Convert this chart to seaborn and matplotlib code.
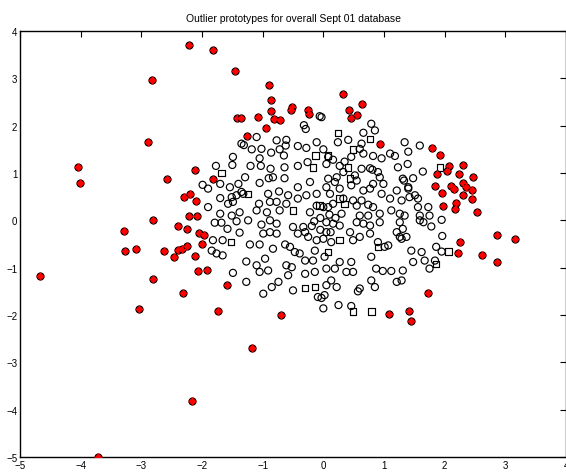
import matplotlib
matplotlib.use("Agg")
import matplotlib.pyplot as plt
import seaborn as sns
import pandas as pd

# ---------------- data ----------------
circ_x = [-0.32, -0.29, -0.11, -0.77, -0.61, -0.62, -0.42, -0.28, -1.10, -1.35, -1.31, -1.18, -1.02,
          -0.86, -0.72, -0.65, -1.05, -1.49, -1.50, -1.20, -1.03, -0.87, -0.83, -0.64, -0.64, -0.42,
          -0.26, -1.77, -1.99, -1.90, -1.70, -1.54, -1.40, -1.29, -1.32, -1.05, -0.90, -0.73,
          -0.58, -0.42, -0.22, -0.11, -1.51, -1.43, -1.35, -1.70, -1.90, -1.57, -1.49, -1.06, -0.91,
          -0.88, -0.77, -0.61, -0.42, -0.28, -1.70, -1.51, -1.38, -1.10, -0.93, -0.72, -0.22, -0.11,
          -0.03, 0.79, 0.85, 0.66, 0.41, 0.24, 0.63, 0.00, 0.08, 0.16, 0.60, 0.66, 0.46, 0.35, 0.96,
          0.82, 1.10, 1.18, 1.40, 1.34, 1.59, 1.39, 1.23, 0.77, 0.81, 0.90, 0.93, 0.63, 0.27, 0.33,
          0.05, 0.08, 0.52, 0.55, 0.46, 0.22, 0.19, 0.27, 0.05, 0.11, 0.82, 0.77, 0.66, 0.99, 0.96,
          1.31, 1.48, 1.40, 1.21, 1.10, 1.51, 1.56, 1.29, 0.63, 0.74, 0.82, 0.33, 0.49, 0.55, 0.16,
          0.08, 0.00, 0.93, 1.12, 1.26, 1.56, 1.73, 1.59, 1.75, 0.60, 0.74, 0.30, 1.34,
          1.64, 1.33, 1.40, 1.42, 1.59, 1.65, 1.78, 1.95, 1.31, 1.29, 1.37, 1.96, 1.45, 1.62, 1.86,
          1.95, 1.84, 1.48, 1.67, -0.06,
          -1.79, -1.68, -1.43, -1.24, -1.02, -0.88, -0.77, -1.58, -1.38, -0.99, -0.88, -0.77, -0.50,
          -0.33, -0.19, -1.82, -1.66, -1.21, -1.05, -0.83, -0.63, -0.55, -0.42, -0.30, -0.25, -0.11,
          -0.47, -0.39, -0.14, -1.84, -1.76, -1.66, -1.27, -1.10, -0.96, -0.91, -1.05, -0.30, -0.17,
          -0.61, -0.58, -0.52, -0.30, -0.14, -1.49, -1.27, -0.74, -0.85, -0.99, -0.50, -0.09,
          0.05, 0.16, 0.27, 0.55, 0.66, 0.77, 0.93, 1.26, 0.05, 0.00, 0.13, 0.44, 0.49, 0.60, 0.77,
          1.21, 1.26, 0.90, 1.01, 1.07, 0.02, 0.27, 0.46, 0.05, 0.19, 0.38, 0.49, 0.79, 0.87, 0.98,
          1.12, 1.31, 1.29, 1.21, 1.75, 0.05, 0.02, -0.03, 0.22, 0.13, 0.79, 0.85, 0.60, 0.57, 0.00,
          0.25, 0.46, -0.05, 0.10, -0.15, 0.20, -0.05, 0.12]
circ_y = [2.01, 1.93, 1.65, 1.69, 1.70, 1.58, 1.57, 1.53, 1.76, 1.62, 1.59, 1.50, 1.51,
          1.43, 1.50, 1.37, 1.31, 1.34, 1.17, 1.15, 1.15, 1.09, 0.91, 1.12, 0.89, 1.15,
          1.23, 1.15, 0.75, 0.67, 0.77, 0.70, 0.77, 0.91, 0.56, 0.79, 0.89, 0.61,
          0.53, 0.70, 0.81, 0.56, 0.49, 0.53, 0.60, 0.47, 0.28, 0.35, 0.39, 0.35, 0.56,
          0.39, 0.39, 0.35, 0.46, 0.53, 0.14, 0.10, 0.17, 0.21, 0.17, 0.21, 0.17, 0.31,
          2.18, 2.04, 1.90, 1.85, 1.70, 1.65, 1.62, 1.50, 1.34, 1.28, 1.51, 1.41, 1.34, 1.24, 1.31,
          1.36, 1.41, 1.36, 1.45, 1.65, 1.58, 1.19, 1.12, 1.10, 1.07, 1.02, 0.91, 1.09, 1.15, 1.02,
          1.19, 0.88, 0.95, 0.84, 0.74, 0.91, 0.81, 0.67, 0.70, 0.56, 0.77, 0.67, 0.63, 0.77, 0.56,
          0.88, 0.89, 0.70, 0.63, 0.46, 0.53, 0.46, 0.42, 0.42, 0.33, 0.28, 0.46, 0.42, 0.31, 0.35,
          0.28, 0.28, 0.14, 0.21, 0.14, 0.28, 0.28, 0.10, 0.10, 0.10, 0.10, 0.14, 0.10,
          1.03, 0.84, 0.67, 0.49, 0.00, -0.04, -0.13, 0.01, -0.18, -0.39, -0.35, -0.33, -0.64, -0.67, -0.56,
          -0.66, -0.85, -0.88, -0.85, 2.20,
          -0.05, -0.05, -0.02, 0.00, -0.09, 0.00, -0.07, -0.18, -0.26, -0.28, -0.25, -0.28, -0.14,
          -0.14, -0.12, -0.42, -0.42, -0.51, -0.51, -0.60, -0.51, -0.56, -0.28, -0.25, -0.35, -0.42,
          -0.67, -0.70, -0.64, -0.64, -0.70, -0.74, -0.87, -0.95, -0.81, -1.06, -1.09, -0.85, -0.85,
          -0.95, -1.16, -0.99, -1.13, -1.09, -1.11, -1.30, -1.30, -1.41, -1.55, -1.48, -1.62,
          -0.04, -0.07, -0.11, -0.04, -0.07, -0.11, -0.04, -0.04, -0.25, -0.39, -0.46, -0.25, -0.42, -0.35, -0.28,
          -0.25, -0.35, -0.46, -0.56, -0.53, -0.77, -0.88, -0.88, -1.02, -1.02, -1.09, -1.09, -0.77, -1.02, -1.07,
          -1.07, -1.06, -1.27, -1.30, -1.02, -1.37, -1.58, -1.64, -1.41, -1.27, -1.27, -1.41, -1.44, -1.50, -1.86,
          -1.79, -1.81, 0.05, 0.12, -0.02, 0.05, -0.20, -0.25]

sq_x = [-1.68, -0.17, -1.24, -0.50, 0.24, 0.77, 0.49, 0.41, 0.44, 0.35, 0.08, -0.06, 0.27,
        1.92, 2.06, 1.86, -1.52, -0.30, -0.14, 0.27, 0.90, 0.08, 0.49, 0.79, -0.13]
sq_y = [1.00, 1.12, 0.56, 0.21, 1.84, 1.72, 1.50, 1.12, 0.88, 0.35, 1.37, 0.31, 0.46,
        1.12, -0.66, -0.92, -0.46, -1.43, -1.41, -0.42, -0.56, -0.67, -1.93, -1.93, 1.37]

out_x = [-2.22, -1.82, -1.46, -2.82, -0.89, -0.87, -0.86, -1.43, -1.36, -1.07, -0.82, -0.72, -0.95,
         -1.26, -2.89, -0.52, -0.54, -0.25, -0.24, 0.33, 0.64, 0.42, 0.56, 0.46, 0.94, -4.04, -4.01,
         -2.11, -2.58, -1.82, -2.29, -2.20, -2.10, -2.80, -2.22, -2.08, -3.29, -2.40, -2.24, -2.05,
         -1.97, -3.27, -3.09, -2.63, -2.46, -2.39, -2.33, -2.24, -2.00, -2.12, -2.06, -1.91, -4.67,
         -2.81, -2.31, -1.59, -3.04, -1.73, -0.69, -1.17, -2.16, -3.71, 1.79, 1.93, 2.07, 2.04, 2.30,
         2.23, 2.47, 1.87, 1.84, 2.10, 2.15, 2.31, 2.35, 2.45, 1.96, 2.30, 2.45, 1.98, 2.18, 2.17,
         2.53, 2.87, 3.16, 2.26, 2.22, 2.62, 2.87, 1.73, 1.08, 1.41, 1.44]
out_y = [3.70, 3.59, 3.16, 2.96, 2.85, 2.55, 2.31, 2.16, 2.16, 2.19, 2.15, 2.12, 1.96,
         1.78, 1.65, 2.40, 2.33, 2.33, 2.24, 2.66, 2.45, 2.34, 2.22, 2.16, 1.61, 1.12, 0.78,
         1.07, 0.87, 0.88, 0.49, 0.56, 0.41, 0.00, 0.09, 0.09, -0.23, -0.11, -0.18, -0.26,
         -0.32, -0.64, -0.61, -0.64, -0.77, -0.63, -0.60, -0.54, -0.51, -0.75, -1.08, -1.04, -1.18,
         -1.23, -1.53, -1.37, -1.87, -1.91, -2.01, -2.69, -3.81, -5.00, 1.53, 1.37, 1.14, 1.05, 1.16,
         0.97, 0.91, 0.98, 0.72, 0.72, 0.66, 0.79, 0.70, 0.65, 0.58, 0.53, 0.46, 0.31, 0.37, 0.24,
         0.17, -0.30, -0.40, -0.46, -0.68, -0.74, -0.89, -1.53, -1.97, -1.91, -2.13]

title = "Outlier prototypes for overall Sept 01 database"
x_ticks = [-5, -4, -3, -2, -1, 0, 1, 2, 3, 4]
y_ticks = [-5, -4, -3, -2, -1, 0, 1, 2, 3, 4]

circles = pd.DataFrame({"x": circ_x, "y": circ_y})
squares = pd.DataFrame({"x": sq_x, "y": sq_y})
outliers = pd.DataFrame({"x": out_x, "y": out_y})

# ---------------- style ----------------
sns.set_theme(style="white")
plt.rcParams["font.family"] = ["Liberation Sans", "DejaVu Sans"]
plt.rcParams["axes.unicode_minus"] = True

fig = plt.figure(figsize=(5.66, 4.77), dpi=100)
ax = fig.add_axes([20 / 566, 19 / 477, 546 / 566, 426 / 477])

sns.scatterplot(data=circles, x="x", y="y", ax=ax, marker="o", s=26,
                facecolor="none", edgecolor="black", linewidth=0.85, zorder=2)
sns.scatterplot(data=squares, x="x", y="y", ax=ax, marker="s", s=22,
                facecolor="none", edgecolor="black", linewidth=0.85, zorder=2)
sns.scatterplot(data=outliers, x="x", y="y", ax=ax, marker="o", s=26,
                facecolor="#ff0000", edgecolor="black", linewidth=0.8, zorder=3)
sns.scatterplot(data=outliers, x="x", y="y", ax=ax, marker="+", s=28,
                color="#ff0000", linewidth=1.0, zorder=4)

ax.set_xlim(-5, 4)
ax.set_ylim(-5, 4)
ax.set_xticks(x_ticks)
ax.set_yticks(y_ticks)
ax.set_xlabel("")
ax.set_ylabel("")
ax.tick_params(direction="in", top=True, right=True, length=4, width=0.8,
               labelsize=7, pad=2, colors="black")
for sp in ax.spines.values():
    sp.set_visible(True)
    sp.set_color("black")
    sp.set_linewidth(1.0)
ax.set_title(title, fontsize=7.5, pad=7, color="black")

fig.savefig("out.png", dpi=100, facecolor="white")
